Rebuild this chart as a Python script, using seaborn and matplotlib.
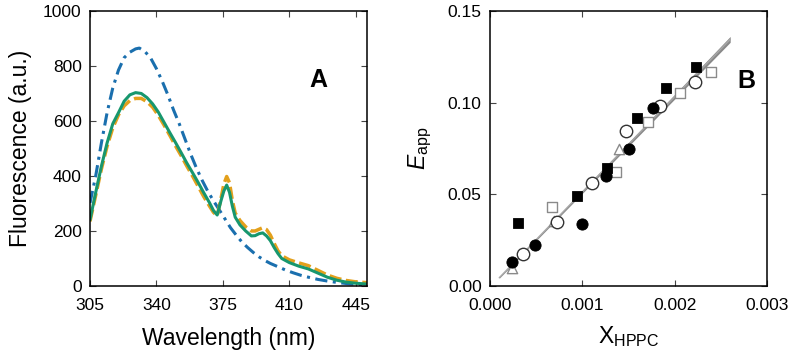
import numpy as np
import pandas as pd
import matplotlib
matplotlib.use("Agg")
import matplotlib.pyplot as plt
import seaborn as sns

### PANEL A DATA (emission spectra)

wl_blue = [305, 308, 311, 314, 317, 320, 323, 326, 329, 331, 334, 337, 340, 343, 346,
           349, 352, 355, 358, 361, 364, 367, 370, 373, 376, 379, 382, 385, 388, 391,
           394, 397, 400, 404, 408, 412, 416, 420, 425, 430, 435, 440, 445, 451]
fl_blue = [302, 400, 520, 630, 720, 785, 830, 850, 862, 865, 852, 828, 790, 745, 695,
           640, 590, 535, 480, 430, 385, 345, 310, 278, 245, 212, 185, 160, 140, 122,
           106, 93, 82, 70, 58, 48, 39, 32, 24, 18, 13, 9, 6, 4]

wl_mix = [305, 308, 311, 314, 317, 320, 323, 326, 329, 332, 335, 338, 341, 344, 347,
          350, 353, 356, 359, 362, 365, 368, 370, 372, 374, 375.5, 377, 378.5, 380,
          381.5, 384, 387, 390, 392, 394, 396, 398, 400, 402, 404, 406, 410, 415,
          420, 425, 430, 435, 440, 445, 451]
fl_green = [240, 340, 435, 520, 590, 630, 672, 695, 703, 700, 685, 662, 632, 595, 558,
            522, 485, 447, 412, 376, 338, 302, 275, 258, 310, 345, 367, 340, 290,
            250, 222, 200, 182, 183, 190, 193, 182, 165, 140, 118, 100, 85, 72,
            62, 47, 32, 21, 14, 10, 7]
fl_orange = [235, 330, 425, 508, 575, 622, 655, 674, 682, 682, 670, 650, 620, 585, 548,
             510, 474, 436, 400, 362, 324, 290, 268, 255, 318, 370, 398, 375, 310,
             265, 238, 215, 200, 200, 206, 212, 205, 185, 155, 128, 110, 95, 84,
             74, 57, 40, 28, 20, 15, 12]

### PANEL B DATA (E_app vs X_HPPC)

sq_fill_x = [0.000298, 0.000946, 0.001262, 0.001589, 0.001909, 0.002225]
sq_fill_y = [0.0345, 0.0491, 0.0642, 0.0915, 0.1082, 0.1197]
ci_fill_x = [0.000236, 0.000491, 0.001000, 0.001255, 0.001509, 0.001764]
ci_fill_y = [0.0129, 0.0224, 0.0336, 0.0600, 0.0747, 0.0969]
ci_open_x = [0.000356, 0.000727, 0.001102, 0.001473, 0.001844, 0.002218]
ci_open_y = [0.0175, 0.0351, 0.0560, 0.0846, 0.0982, 0.1115]
sq_open_x = [0.000673, 0.001364, 0.001709, 0.002055, 0.002393]
sq_open_y = [0.0429, 0.0624, 0.0896, 0.1055, 0.1169]
tri_open_x = [0.000236, 0.000691, 0.001400]
tri_open_y = [0.0100, 0.0356, 0.0747]

fit_slope = 52.0
fit_intercept = -0.0007
fit_range = [0.0001, 0.0026]
fit_band = [0.0006, 0.0032]

### STYLE

sns.set_style("ticks")
plt.rcParams["font.family"] = ["Liberation Sans", "DejaVu Sans"]
plt.rcParams["mathtext.fontset"] = "custom"
plt.rcParams["mathtext.rm"] = "Liberation Sans"
plt.rcParams["mathtext.it"] = "Liberation Sans:italic"
plt.rcParams["text.color"] = "black"
plt.rcParams["axes.labelcolor"] = "black"
plt.rcParams["xtick.color"] = "black"
plt.rcParams["ytick.color"] = "black"

fig = plt.figure(figsize=(7.93, 3.6), dpi=100)
axA = fig.add_axes([0.1135, 0.2056, 0.3495, 0.764])
axB = fig.add_axes([0.6179, 0.2056, 0.3495, 0.764])

### PANEL A

sns.lineplot(x=wl_blue, y=fl_blue, ax=axA, color="#1a6fae", lw=2.2,
             linestyle=(0, (4, 1.8, 1, 1.8)))
sns.lineplot(x=wl_mix, y=fl_orange, ax=axA, color="#e3a01c", lw=2.5,
             linestyle=(0, (3.5, 1.3)))
sns.lineplot(x=wl_mix, y=fl_green, ax=axA, color="#17976e", lw=2.2)

axA.set_xlim(305, 451)
axA.set_ylim(0, 1000)
axA.set_xticks([305, 340, 375, 410, 445])
axA.set_yticks([0, 200, 400, 600, 800, 1000])
axA.set_xlabel("Wavelength (nm)", fontsize=16.5, labelpad=10)
axA.set_ylabel("Fluorescence (a.u.)", fontsize=16.5, labelpad=8)
axA.text(0.823, 0.75, "A", transform=axA.transAxes, fontsize=18,
         fontweight="bold", ha="center", va="center")

### PANEL B

fx = np.array(fit_range)
fy = fit_slope * fx + fit_intercept
axB.fill_between(fx, fy - np.array(fit_band) / 2, fy + np.array(fit_band) / 2,
                 color="#7c7c7c", alpha=0.9, lw=0)
sns.lineplot(x=fx, y=fy, ax=axB, color="#a8a8a8", lw=1.0)

sns.scatterplot(x=sq_open_x, y=sq_open_y, ax=axB, marker="s", s=55,
                facecolor="white", edgecolor="#8a8a8a", linewidth=1.0, zorder=3)
sns.scatterplot(x=tri_open_x, y=tri_open_y, ax=axB, marker="^", s=55,
                facecolor="white", edgecolor="#8a8a8a", linewidth=1.0, zorder=3)
sns.scatterplot(x=ci_open_x, y=ci_open_y, ax=axB, marker="o", s=80,
                facecolor="white", edgecolor="#333333", linewidth=1.0, zorder=3)
sns.scatterplot(x=sq_fill_x, y=sq_fill_y, ax=axB, marker="s", s=55,
                color="black", edgecolor="black", zorder=4)
sns.scatterplot(x=ci_fill_x, y=ci_fill_y, ax=axB, marker="o", s=65,
                color="black", edgecolor="black", zorder=4)

axB.set_xlim(0, 0.003)
axB.set_ylim(0, 0.15)
axB.set_xticks([0, 0.001, 0.002, 0.003])
axB.set_xticklabels(["0.000", "0.001", "0.002", "0.003"])
axB.set_yticks([0, 0.05, 0.10, 0.15])
axB.set_yticklabels(["0.00", "0.05", "0.10", "0.15"])
axB.set_xlabel(r"X$_{\mathrm{HPPC}}$", fontsize=16.5, labelpad=8)
axB.set_ylabel(r"$\mathit{E}_{\mathrm{app}}$", fontsize=16.5, labelpad=10)
axB.text(0.925, 0.745, "B", transform=axB.transAxes, fontsize=18,
         fontweight="bold", ha="center", va="center")

for ax in (axA, axB):
    ax.tick_params(direction="in", top=True, right=True, length=4, width=0.8,
                   labelsize=12.5, color="#444444")
    ax.tick_params(axis="x", pad=9)
    ax.tick_params(axis="y", pad=6)
    for sp in ax.spines.values():
        sp.set_visible(True)
        sp.set_linewidth(1.1)
        sp.set_color("black")

fig.savefig("out.png", dpi=100)
